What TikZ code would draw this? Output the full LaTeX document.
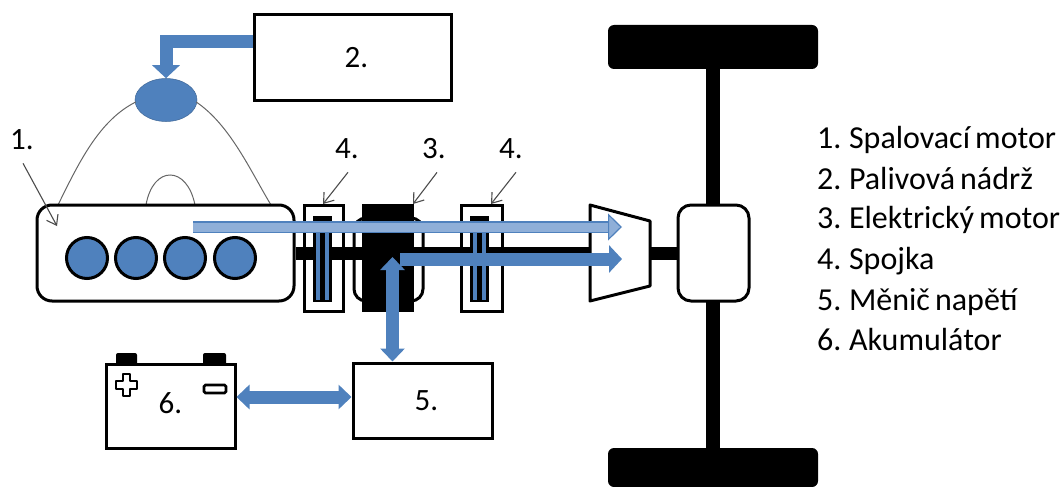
\documentclass[tikz,border=0pt]{standalone}
\usepackage{fontspec}
\setmainfont{Carlito}
\usetikzlibrary{arrows.meta, shapes.geometric}
\definecolor{pipeblue}{HTML}{4F81BD}
\definecolor{pipelight}{HTML}{8FAFD8}
\newcommand{\legendfont}{\fontsize{32}{36}\selectfont\spaceskip 0.16em\relax}
\tikzset{
    box/.style={draw=black, line width=3pt, fill=white, inner sep=0pt, font=\fontsize{31}{36}\selectfont},
    cylinder/.style={circle, draw=black, line width=3pt, fill=pipeblue, minimum size=41pt, inner sep=0pt},
    wheel/.style={fill=black, rounded corners=6pt, minimum width=210pt, inner sep=0pt},
    shaft/.style={black, line width=13pt},
    hose/.style={gray!80!black, line width=1pt},
    pointer/.style={gray!60!black, line width=1.1pt, -{Straight Barb[length=9pt,width=13pt]}},
    tag/.style={inner sep=1pt, font=\fontsize{31}{36}\selectfont},
    legendline/.style={anchor=base west, inner sep=0pt, font=\legendfont},
    pipe/.style={draw=pipeblue, line width=13pt, -{Triangle[length=13pt,width=27pt,fill=pipeblue]}},
    pipeboth/.style={draw=pipeblue, line width=13pt, {Triangle[length=13pt,width=24pt,fill=pipeblue]}-{Triangle[length=13pt,width=24pt,fill=pipeblue]}},
    pipepale/.style={draw=pipeblue, line width=1.7pt, double=pipelight, double distance=9pt,
        -{Triangle[length=14pt,width=27pt,fill=pipelight,line width=1.2pt]}},
}
\begin{document}
\begin{tikzpicture}[x=1pt, y=-1pt]
    \useasboundingbox (0, 0) rectangle (1063, 487);
    % fuel hoses
    \node[ellipse, fill=pipeblue, draw=pipeblue!80!black, line width=0.5pt, minimum width=62pt, minimum height=43pt, inner sep=0pt] (injector) at (166, 100) {};
    \draw[hose] (injector.west) ++(1, 2) .. controls (100, 120) and (80, 160) .. (58, 205);
    \draw[hose] (injector.east) ++(-1, 2) .. controls (230, 125) and (250, 170) .. (271, 205);
    \draw[hose] (146, 205) .. controls (153, 165) and (187, 165) .. (195, 205);
    % engine
    \node[box, rounded corners=15pt, minimum width=257pt, minimum height=96pt] (engine) at (165.5, 253) {};
    \node[cylinder] (cyl1) at (87, 258) {};
    \node[cylinder] (cyl2) at (136, 258) {};
    \node[cylinder] (cyl3) at (185, 258) {};
    \node[cylinder] (cyl4) at (235, 258) {};
    % axle and wheels
    \node[wheel, minimum height=44pt] (wheeltop) at (713, 47) {};
    \node[wheel, minimum height=39pt] (wheelbottom) at (713, 467.5) {};
    \draw[black, line width=14pt] (wheeltop) -- (wheelbottom);
    \node[box, rounded corners=13pt, minimum width=71pt, minimum height=96pt] (diff) at (713.5, 253) {};
    % clutches and motor
    \node[box, minimum width=39pt, minimum height=106pt] (clutchleft) at (323.5, 258) {};
    \node[box, minimum width=41pt, minimum height=106pt] (clutchright) at (481.5, 258) {};
    \node[box, rounded corners=12pt, minimum width=69pt, minimum height=83pt] (motorbody) at (388.5, 259.5) {};
    \draw[shaft] (engine.east) -- (diff.west);
    \foreach \cx in {313, 470} {
        \fill[black] (\cx, 216) rectangle ++(18.5, 86);
        \fill[pipeblue] (\cx+3, 222) rectangle ++(4, 78);
        \fill[pipeblue] (\cx+12, 222) rectangle ++(4, 78);
    }
    \node[fill=black, minimum width=52pt, minimum height=108pt, inner sep=0pt] (motor) at (388, 258) {};
    % gearbox
    \draw[black, line width=3pt, fill=white, line join=round] (590, 205) -- (650, 221) -- (650, 286) -- (590, 301) -- cycle;
    % tank
    \node[box, minimum width=197pt, minimum height=85pt] (tank) at (352.5, 57.5) {\hspace{8pt}2.};
    \draw[pipe] ([yshift=15.5pt]tank.west) -| (injector.north);
    % inverter and battery
    \node[box, minimum width=139pt, minimum height=75pt] (inverter) at (422.5, 400.5) {\hspace{8pt}5.};
    \fill[black, rounded corners=2pt] (116, 366) -- (116, 353) -- (137, 353) -- (137, 366) -- cycle;
    \fill[black, rounded corners=2pt] (203, 366) -- (203, 353) -- (226, 353) -- (226, 366) -- cycle;
    \node[box, minimum width=129pt, minimum height=84pt] (battery) at (170.5, 406) {\raisebox{5pt}{6.}};
    \draw[black, line width=2.6pt, line join=round] (123, 374) -- (130, 374) -- (130, 381) -- (137, 381) -- (137, 389) -- (130, 389) -- (130, 396) -- (123, 396) -- (123, 389) -- (116, 389) -- (116, 381) -- (123, 381) -- cycle;
    \draw[black, line width=2.6pt, rounded corners=1.5pt] (204, 385) rectangle (226, 393);
    % power flow
    \coordinate (enginepower) at (193, 227);
    \coordinate (gearupper) at (622, 227);
    \coordinate (motorpower) at (400, 259);
    \coordinate (gearlower) at (622, 259);
    \coordinate (motorport) at (392.5, 257);
    \draw[pipepale] (enginepower) -- (gearupper);
    \draw[pipe] (motorpower) -- (gearlower);
    \draw[pipeboth] (motorport) -- (motorport |- inverter.north);
    \draw[pipeboth] ([yshift=9pt]battery.east) -- ([yshift=3.5pt]inverter.west);
    % callouts
    \node[tag] (lab1) at (22, 140) {1.};
    \node[tag] (lab4a) at (347, 149) {4.};
    \node[tag] (lab3) at (434, 149) {3.};
    \node[tag] (lab4b) at (511, 149) {4.};
    \coordinate (hit1) at (57, 226);
    \coordinate (hit4a) at (323, 204);
    \coordinate (hit3) at (413, 204);
    \coordinate (hit4b) at (491, 204);
    \draw[pointer] (lab1.south) ++(1, 12) -- (hit1);
    \draw[pointer] (lab4a.south) ++(1, 12) -- (hit4a);
    \draw[pointer] (lab3.south) ++(3, 12) -- (hit3);
    \draw[pointer] (lab4b.south) ++(5, 12) -- (hit4b);
    % legend
    \node[legendline] (legend1) at (817, 148) {1. Spalovací motor};
    \node[legendline] (legend2) at (817, 189) {2. Palivová nádrž};
    \node[legendline] (legend3) at (817, 228.5) {3. Elektrický motor};
    \node[legendline] (legend4) at (817, 269) {4. Spojka};
    \node[legendline] (legend5) at (817, 310) {5. Měnič napětí};
    \node[legendline] (legend6) at (817, 350) {6. Akumulátor};
\end{tikzpicture}
\end{document}
